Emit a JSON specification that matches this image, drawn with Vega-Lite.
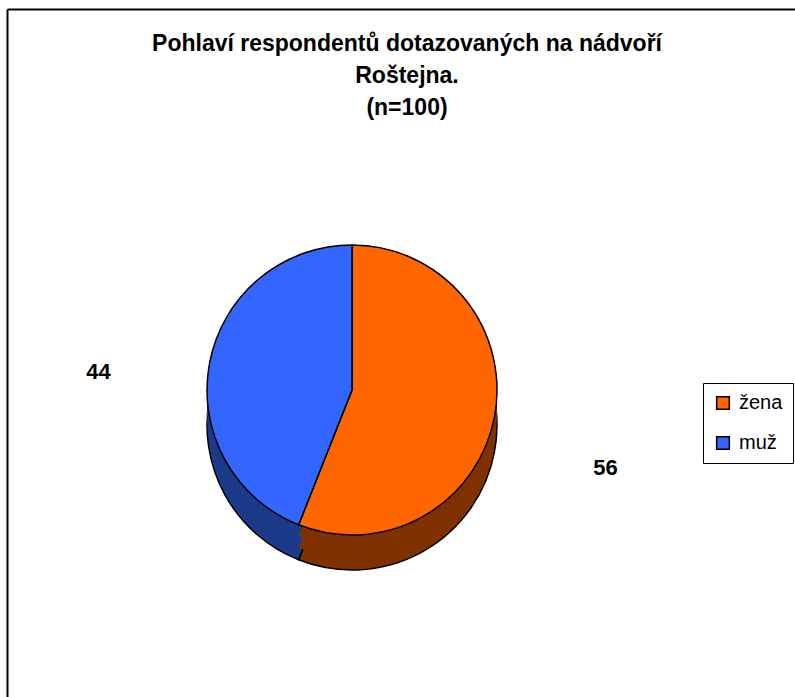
{
  "$schema": "https://vega.github.io/schema/vega-lite/v6.json",
  "width": 788,
  "height": 688,
  "autosize": {"type": "none"},
  "padding": {"left": 7, "top": 9, "right": 0, "bottom": 0},
  "background": "white",
  "config": {
    "view": {"stroke": null, "fill": "white"},
    "font": "Liberation Sans"
  },
  "title": {
    "text": ["Pohlaví respondentů dotazovaných na nádvoří", "Roštejna.", "(n=100)"],
    "font": "Liberation Sans",
    "fontSize": 23,
    "fontWeight": "bold",
    "lineHeight": 32,
    "anchor": "middle",
    "baseline": "top",
    "dx": 6,
    "dy": 115,
    "color": "black"
  },
  "data": {"values": [{"sex": "žena", "count": 56}, {"sex": "muž", "count": 44}]},
  "resolve": {"scale": {"color": "independent"}},
  "layer": [
    {
      "mark": {"type": "point", "opacity": 0},
      "encoding": {
        "x": {"field": "count", "type": "quantitative", "scale": {"zero": true}, "axis": {"orient": "top", "domainColor": "black", "domainWidth": 2, "ticks": false, "labels": false, "grid": false, "title": null}},
        "y": {"field": "count", "type": "quantitative", "scale": {"zero": true}, "axis": {"orient": "left", "domainColor": "black", "domainWidth": 2, "ticks": false, "labels": false, "grid": false, "title": null}}
      }
    },
    {
      "mark": {"type": "arc", "radius": 145, "xOffset": -49, "yOffset": 72, "stroke": "black", "strokeWidth": 1.5},
      "encoding": {
        "theta": {"field": "count", "type": "quantitative", "stack": true},
        "order": {"field": "count", "sort": "descending"},
        "color": {"field": "sex", "type": "nominal", "scale": {"domain": ["žena", "muž"], "range": ["#7F3200", "#1C3A8A"]}, "legend": null}
      }
    },
    {
      "mark": {"type": "arc", "radius": 145, "xOffset": -49, "yOffset": 60},
      "encoding": {
        "theta": {"field": "count", "type": "quantitative", "stack": true},
        "order": {"field": "count", "sort": "descending"},
        "color": {"field": "sex", "type": "nominal", "scale": {"domain": ["žena", "muž"], "range": ["#7F3200", "#1C3A8A"]}, "legend": null}
      }
    },
    {
      "mark": {"type": "arc", "radius": 145, "xOffset": -49, "yOffset": 48},
      "encoding": {
        "theta": {"field": "count", "type": "quantitative", "stack": true},
        "order": {"field": "count", "sort": "descending"},
        "color": {"field": "sex", "type": "nominal", "scale": {"domain": ["žena", "muž"], "range": ["#7F3200", "#1C3A8A"]}, "legend": null}
      }
    },
    {
      "mark": {"type": "arc", "radius": 145, "xOffset": -49, "yOffset": 37, "stroke": "black", "strokeWidth": 1.5},
      "encoding": {
        "theta": {"field": "count", "type": "quantitative", "stack": true},
        "order": {"field": "count", "sort": "descending"},
        "color": {
          "field": "sex",
          "type": "nominal",
          "scale": {"domain": ["žena", "muž"], "range": ["#FF6600", "#3366FF"]},
          "legend": {
            "orient": "none",
            "legendX": 696,
            "legendY": 374,
            "title": null,
            "labelFont": "Liberation Sans",
            "labelFontSize": 20,
            "labelColor": "black",
            "symbolType": "square",
            "symbolSize": 160,
            "symbolStrokeColor": "black",
            "symbolStrokeWidth": 1.5,
            "strokeColor": "black",
            "fillColor": "white",
            "padding": 10,
            "rowPadding": 20,
            "labelOffset": 6
          }
        }
      }
    },
    {
      "mark": {"type": "text", "radius": 258, "xOffset": -49, "yOffset": 67, "font": "Liberation Sans", "fontSize": 22, "fontWeight": "bold", "color": "black"},
      "encoding": {
        "theta": {"field": "count", "type": "quantitative", "stack": true},
        "order": {"field": "count", "sort": "descending"},
        "text": {"field": "count", "type": "quantitative"}
      }
    }
  ]
}
